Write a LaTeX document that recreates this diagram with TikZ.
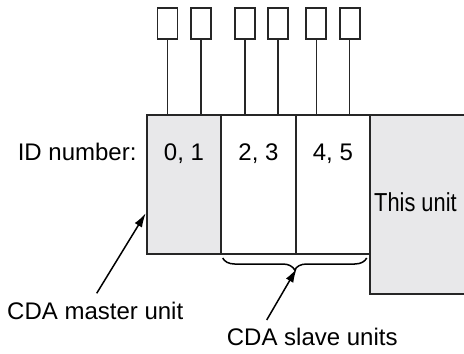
\documentclass[tikz,border=0pt]{standalone}
\usepackage{fontspec}
\setmainfont{Liberation Sans}
\usetikzlibrary{decorations.pathreplacing,arrows.meta}
\definecolor{unitgray}{HTML}{E8E8EA}
\begin{document}
\begin{tikzpicture}[x=1pt,y=-1pt,
  every node/.style={font=\fontsize{24}{28}\selectfont, inner sep=0pt},
  unitbox/.style={draw=black!85, line width=2pt, minimum height=138.7pt, anchor=north west},
  connbox/.style={draw=black!85, line width=1.8pt, minimum width=20pt, minimum height=31pt},
  wire/.style={draw=black!85, line width=1.5pt},
  pointer/.style={line width=1.5pt, -{Latex[length=14pt,width=8.5pt]}}]
\useasboundingbox (0,0) rectangle (464,354);
\clip (0,0) rectangle (464,354);
% main units
\node[unitbox, fill=unitgray, minimum width=74.6pt] (m) at (145.7,114) {};
\node[unitbox, fill=white, minimum width=74.4pt] (s1) at (220.3,114) {};
\node[unitbox, fill=white, minimum width=74.4pt] (s2) at (294.7,114) {};
\node[draw=black!85, line width=2pt, fill=unitgray, anchor=north west, minimum width=110pt, minimum height=179.3pt] (t) at (368.7,114) {};
% ID labels
\node[anchor=base east] (idl) at (136.7,160) {ID number:};
\node[anchor=base] (l1) at (m.north |- 0,160) {0, 1};
\node[anchor=base] (l2) at (s1.north |- 0,160) {2, 3};
\node[anchor=base] (l3) at (s2.north |- 0,160) {4, 5};
\node[anchor=base west, font=\fontsize{26}{30}\selectfont, xscale=0.84] (tl) at (374,211) {This unit};
% connectors
\foreach \i/\x/\u in {1/167.5/m,2/200.8/m,3/245.1/s1,4/278.1/s1,5/316.3/s2,6/349.6/s2}{
  \node[connbox] (c\i) at (\x,23.5) {};
  \draw[wire] (c\i.south) -- (c\i.south |- \u.north);
}
% brace
\coordinate (b1) at (222.7,258);
\coordinate (b2) at (366.7,258);
\draw[line width=1.5pt, decorate, decoration={brace, mirror, amplitude=12pt, raise=0pt}] (b1) -- (b2);
\coordinate (btip) at (296.7,268.5);
% bottom labels
\node[anchor=base west] (ml) at (7,319.3) {CDA master unit};
\node[anchor=base west] (sl) at (226.7,345) {CDA slave units};
\coordinate (ma) at (96.7,293.3);
\coordinate (mt) at (m.west |- 0,213.3);
\draw[pointer] (ma) -- (mt);
\coordinate (sa) at (266.7,320);
\draw[pointer] (sa) -- (btip);
\end{tikzpicture}
\end{document}
